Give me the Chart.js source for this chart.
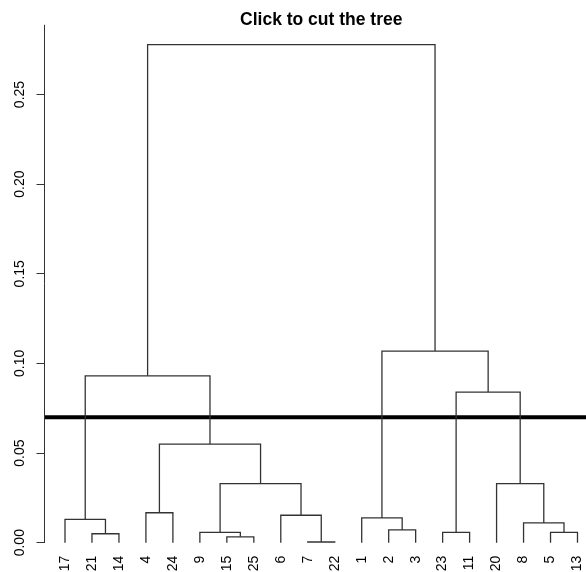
<!DOCTYPE html>
<html>
<head>
<meta charset="utf-8">
<script src="https://cdn.jsdelivr.net/npm/chart.js@4.4.0/dist/chart.umd.min.js"></script>
<style>
  html, body { margin: 0; padding: 0; overflow: hidden; background: #fff; }
  canvas { display: block; }
</style>
</head>
<body>
<canvas id="tree" width="598" height="572"></canvas>
<script>
// leaves in drawing order, left to right
const leafOrder = ['17', '21', '14', '4', '24', '9', '15', '25', '6', '7', '22', '1', '2', '3', '23', '11', '20', '8', '5', '13'];
// hclust style merges: negative = observation, positive = earlier merge step
const mergeLeft = [-7, -15, -21, -9, -23, -5, -2, -8, -17, -1, -6, -4, 4, -20, 12, 5, 9, 10, 17];
const mergeRight = [-22, -25, -14, 2, -11, -13, -3, 6, 3, 7, 1, -24, 11, 8, 13, 14, 15, 16, 18];
const mergeHeight = [0.0004, 0.0033, 0.0050, 0.0058, 0.0058, 0.0058, 0.0071, 0.0110, 0.0130, 0.0138,
    0.0153, 0.0167, 0.0329, 0.0329, 0.0550, 0.0840, 0.0931, 0.1069, 0.2778];
const yTicks = [0, 0.05, 0.10, 0.15, 0.20, 0.25];
const cutHeight = 0.07;

const FONT = "'Liberation Sans', Arial, sans-serif";
const LINE = '#333';

const nodes = [];
function node(i) {
    if (i < 0) return { x: leafOrder.indexOf(String(-i)) + 1, y: 0 };
    return nodes[i - 1];
}

const datasets = [];
mergeHeight.forEach((h, k) => {
    const a = node(mergeLeft[k]);
    const b = node(mergeRight[k]);
    nodes.push({ x: (a.x + b.x) / 2, y: h });
    datasets.push({
        data: [{ x: a.x, y: a.y }, { x: a.x, y: h }, { x: b.x, y: h }, { x: b.x, y: b.y }],
        borderColor: LINE,
        borderWidth: 1.3,
        showLine: true,
        pointRadius: 0,
        fill: false
    });
});

// R-like 4% expansion on x and at the top; bottom trimmed so the leaf labels sit right under 0
const nLeaves = leafOrder.length;
const xMin = 1 - 0.04 * (nLeaves - 1);
const xMax = nLeaves + 0.04 * (nLeaves - 1);
const treeTop = Math.max(...mergeHeight);
const yMin = -0.0072;
const yMax = treeTop * 1.04;

datasets.push({
    data: [{ x: xMin, y: cutHeight }, { x: xMax, y: cutHeight }],
    borderColor: '#000',
    borderWidth: 4,
    showLine: true,
    pointRadius: 0,
    fill: false
});

// y axis line from 0 up to the top of the plot region
const axisLine = {
    id: 'axisLine',
    afterDraw(chart) {
        const ctx = chart.ctx;
        const area = chart.chartArea;
        const y0 = chart.scales.y.getPixelForValue(0);
        ctx.save();
        ctx.strokeStyle = LINE;
        ctx.lineWidth = 1;
        ctx.beginPath();
        ctx.moveTo(area.left, y0);
        ctx.lineTo(area.left, area.top);
        ctx.stroke();
        ctx.restore();
    }
};

new Chart(document.getElementById('tree'), {
    type: 'scatter',
    data: { datasets },
    plugins: [axisLine],
    options: {
        responsive: false,
        animation: false,
        layout: { padding: 0 },
        plugins: {
            legend: { display: false },
            tooltip: { enabled: false },
            title: {
                display: true,
                text: 'Click to cut the tree',
                fullSize: false,
                color: '#000',
                font: { family: FONT, size: 17.5, weight: 'bold', lineHeight: 0.5 },
                padding: { top: 16, bottom: 0 }
            }
        },
        scales: {
            x: {
                type: 'linear',
                min: xMin,
                max: xMax,
                afterBuildTicks: (scale) => {
                    scale.ticks = leafOrder.map((_, i) => ({ value: i + 1 }));
                },
                afterFit: (scale) => { scale.height = 16.4; },
                ticks: {
                    autoSkip: false,
                    minRotation: 90,
                    maxRotation: 90,
                    padding: 0,
                    color: '#000',
                    font: { family: FONT, size: 14 },
                    callback: (v) => leafOrder[v - 1]
                },
                grid: { display: false, drawTicks: false },
                border: { display: false }
            },
            y: {
                min: yMin,
                max: yMax,
                afterBuildTicks: (scale) => {
                    scale.ticks = yTicks.map(v => ({ value: v }));
                },
                afterFit: (scale) => { scale.width = 44.5; },
                ticks: {
                    minRotation: 90,
                    maxRotation: 90,
                    crossAlign: 'center',
                    padding: 3,
                    color: '#000',
                    font: { family: FONT, size: 14 },
                    callback: (v) => v.toFixed(2)
                },
                grid: {
                    display: true,
                    drawOnChartArea: false,
                    drawTicks: true,
                    tickLength: 8,
                    color: LINE
                },
                border: { display: false }
            }
        }
    }
});
</script>
</body>
</html>
